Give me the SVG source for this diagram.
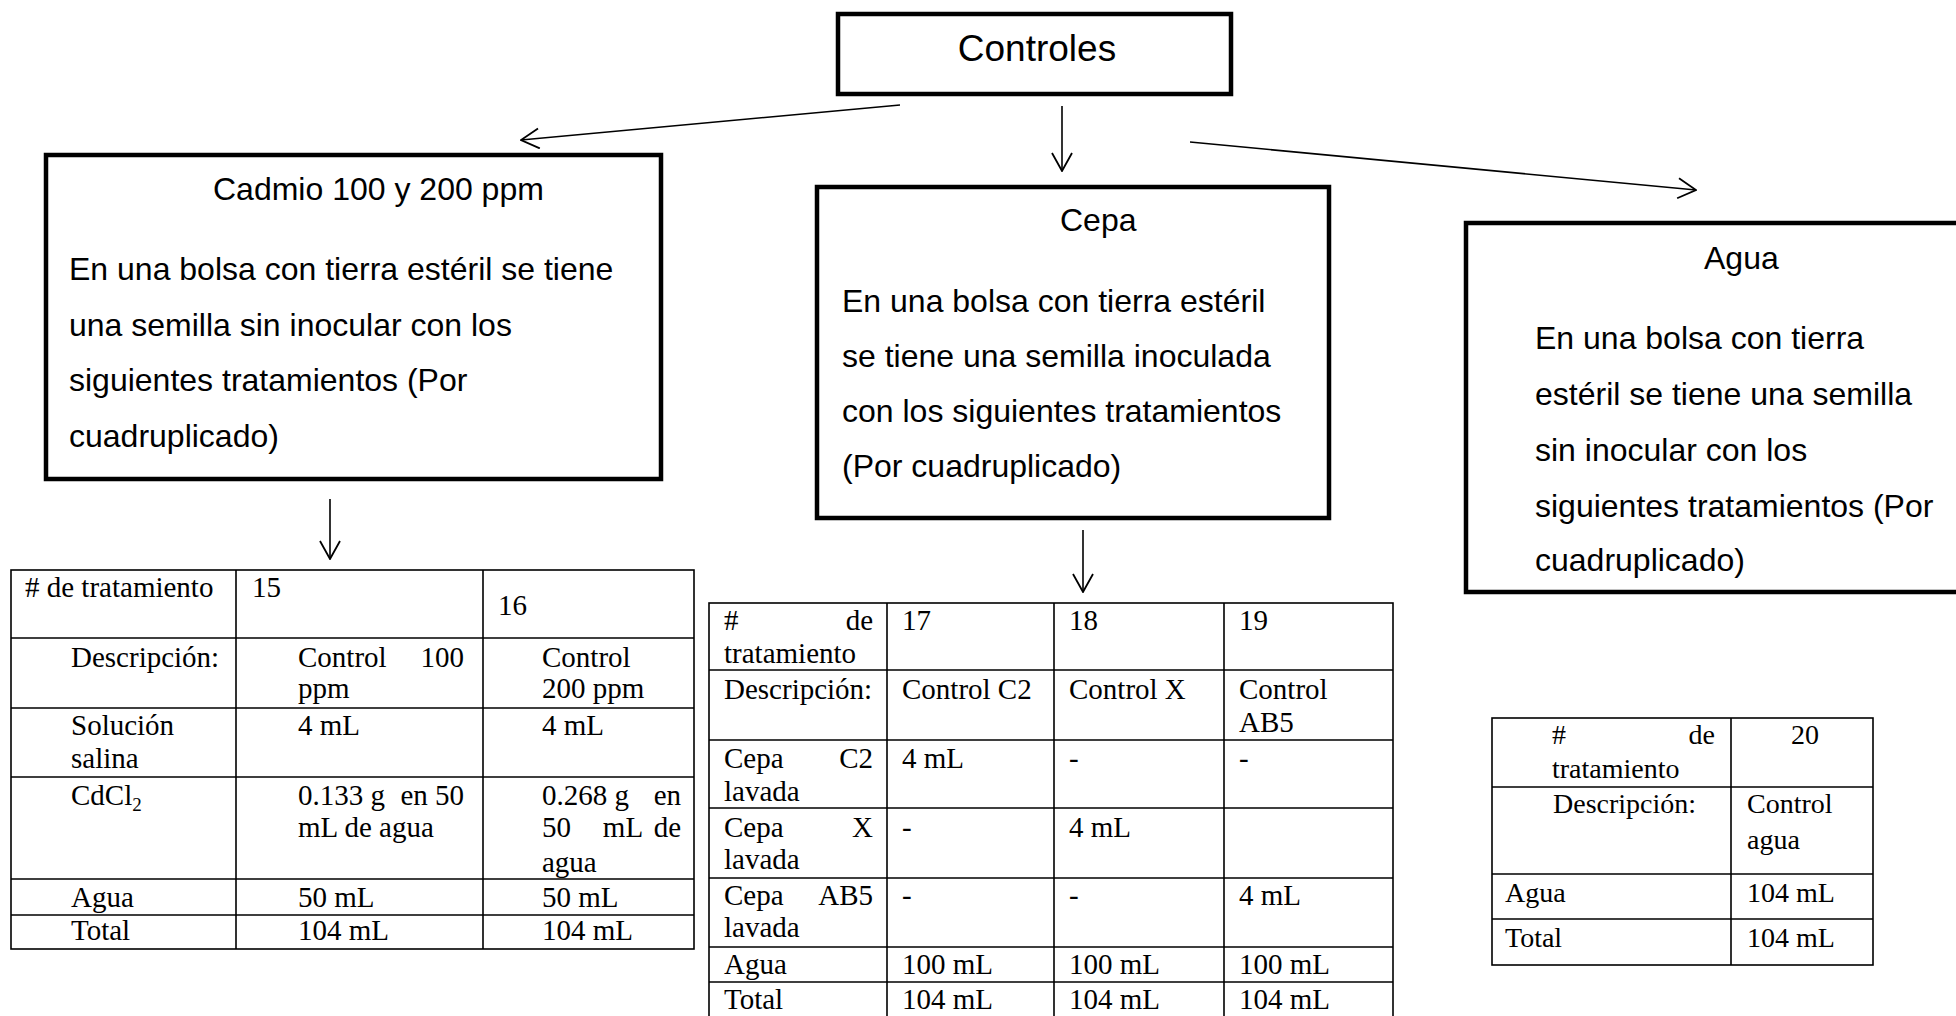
<svg xmlns="http://www.w3.org/2000/svg" width="1956" height="1016" viewBox="0 0 1956 1016">
<style>
.box{fill:#fff;stroke:#000;stroke-width:4.5}
.ar{font-family:"Liberation Sans",Arial,sans-serif;font-size:32px;fill:#000}
.tt{font-family:"Liberation Serif","Times New Roman",serif;font-size:29px;fill:#000}
.t3{font-family:"Liberation Serif","Times New Roman",serif;font-size:28px;fill:#000}
.grid{fill:none;stroke:#000;stroke-width:1.6}
.con{fill:none;stroke:#000;stroke-width:1.6;marker-end:url(#ah)}
.e{text-anchor:end}
.m{text-anchor:middle}
</style>
<defs>
<marker id="ah" markerUnits="userSpaceOnUse" viewBox="0 0 20 22" refX="19" refY="11" markerWidth="20" markerHeight="22" orient="auto">
<path d="M1,1 L19,11 L1,21" fill="none" stroke="#000" stroke-width="1.8"/>
</marker>
</defs>
<rect width="1956" height="1016" fill="#fff"/>

<g id="controles">
<rect class="box" x="838" y="14" width="393" height="80"/>
<text class="ar m" x="1037" y="61" style="font-size:37px">Controles</text>
</g>

<g id="cadmio">
<rect class="box" x="46" y="155" width="615" height="324"/>
<text class="ar" x="213" y="200">Cadmio 100 y 200 ppm</text>
<text class="ar" x="69" y="280">En una bolsa con tierra estéril se tiene</text>
<text class="ar" x="69" y="336">una semilla sin inocular con los</text>
<text class="ar" x="69" y="391">siguientes tratamientos (Por</text>
<text class="ar" x="69" y="447">cuadruplicado)</text>
</g>

<g id="cepa">
<rect class="box" x="817" y="187" width="512" height="331"/>
<text class="ar" x="1060" y="231">Cepa</text>
<text class="ar" x="842" y="312">En una bolsa con tierra estéril</text>
<text class="ar" x="842" y="367">se tiene una semilla inoculada</text>
<text class="ar" x="842" y="422">con los siguientes tratamientos</text>
<text class="ar" x="842" y="477">(Por cuadruplicado)</text>
</g>

<g id="agua">
<rect class="box" x="1466" y="223" width="520" height="369"/>
<text class="ar" x="1704" y="269">Agua</text>
<text class="ar" x="1535" y="349">En una bolsa con tierra</text>
<text class="ar" x="1535" y="405">estéril se tiene una semilla</text>
<text class="ar" x="1535" y="461">sin inocular con los</text>
<text class="ar" x="1535" y="517">siguientes tratamientos (Por</text>
<text class="ar" x="1535" y="571">cuadruplicado)</text>
</g>

<g id="tabla-cadmio">
<rect class="grid" x="11" y="570" width="683" height="379"/>
<path class="grid" d="M236,570V949M483,570V949M11,638H694M11,708H694M11,777H694M11,879H694M11,915H694"/>
<text class="tt" x="25" y="597"># de tratamiento</text>
<text class="tt" x="252" y="597">15</text>
<text class="tt" x="498" y="615">16</text>
<text class="tt" x="71" y="667">Descripción:</text>
<text class="tt" x="298" y="667">Control</text>
<text class="tt e" x="464" y="667">100</text>
<text class="tt" x="298" y="698">ppm</text>
<text class="tt" x="542" y="667">Control</text>
<text class="tt" x="542" y="698">200 ppm</text>
<text class="tt" x="71" y="735">Solución</text>
<text class="tt" x="71" y="768">salina</text>
<text class="tt" x="298" y="735">4 mL</text>
<text class="tt" x="542" y="735">4 mL</text>
<text class="tt" x="71" y="805">CdCl<tspan font-size="19" dy="6">2</tspan></text>
<text class="tt" x="298" y="805">0.133 g</text>
<text class="tt e" x="464" y="805">en 50</text>
<text class="tt" x="298" y="837">mL de agua</text>
<text class="tt" x="542" y="805">0.268 g</text>
<text class="tt e" x="681" y="805">en</text>
<text class="tt" x="542" y="837">50</text>
<text class="tt m" x="623" y="837">mL</text>
<text class="tt e" x="681" y="837">de</text>
<text class="tt" x="542" y="872">agua</text>
<text class="tt" x="71" y="907">Agua</text>
<text class="tt" x="298" y="907">50 mL</text>
<text class="tt" x="542" y="907">50 mL</text>
<text class="tt" x="71" y="940">Total</text>
<text class="tt" x="298" y="940">104 mL</text>
<text class="tt" x="542" y="940">104 mL</text>
</g>

<g id="tabla-cepa">
<rect class="grid" x="709" y="603" width="684" height="430"/>
<path class="grid" d="M887,603V1033M1054,603V1033M1224,603V1033M709,670H1393M709,740H1393M709,808H1393M709,878H1393M709,947H1393M709,982H1393"/>
<text class="tt" x="724" y="630">#</text>
<text class="tt e" x="873" y="630">de</text>
<text class="tt" x="724" y="663">tratamiento</text>
<text class="tt" x="902" y="630">17</text>
<text class="tt" x="1069" y="630">18</text>
<text class="tt" x="1239" y="630">19</text>
<text class="tt" x="724" y="699">Descripción:</text>
<text class="tt" x="902" y="699">Control C2</text>
<text class="tt" x="1069" y="699">Control X</text>
<text class="tt" x="1239" y="699">Control</text>
<text class="tt" x="1239" y="732">AB5</text>
<text class="tt" x="724" y="768">Cepa</text>
<text class="tt e" x="873" y="768">C2</text>
<text class="tt" x="724" y="801">lavada</text>
<text class="tt" x="902" y="768">4 mL</text>
<text class="tt" x="1069" y="768">-</text>
<text class="tt" x="1239" y="768">-</text>
<text class="tt" x="724" y="837">Cepa</text>
<text class="tt e" x="873" y="837">X</text>
<text class="tt" x="724" y="869">lavada</text>
<text class="tt" x="902" y="837">-</text>
<text class="tt" x="1069" y="837">4 mL</text>
<text class="tt" x="724" y="905">Cepa</text>
<text class="tt e" x="873" y="905">AB5</text>
<text class="tt" x="724" y="937">lavada</text>
<text class="tt" x="902" y="905">-</text>
<text class="tt" x="1069" y="905">-</text>
<text class="tt" x="1239" y="905">4 mL</text>
<text class="tt" x="724" y="974">Agua</text>
<text class="tt" x="902" y="974">100 mL</text>
<text class="tt" x="1069" y="974">100 mL</text>
<text class="tt" x="1239" y="974">100 mL</text>
<text class="tt" x="724" y="1009">Total</text>
<text class="tt" x="902" y="1009">104 mL</text>
<text class="tt" x="1069" y="1009">104 mL</text>
<text class="tt" x="1239" y="1009">104 mL</text>
</g>

<g id="tabla-agua">
<rect class="grid" x="1492" y="718" width="381" height="247"/>
<path class="grid" d="M1731,718V965M1492,787H1873M1492,874H1873M1492,919H1873"/>
<text class="t3" x="1552" y="744">#</text>
<text class="t3 e" x="1715" y="744">de</text>
<text class="t3" x="1552" y="778">tratamiento</text>
<text class="t3 m" x="1805" y="744">20</text>
<text class="t3" x="1553" y="813">Descripción:</text>
<text class="t3" x="1747" y="813">Control</text>
<text class="t3" x="1747" y="849">agua</text>
<text class="t3" x="1505" y="902">Agua</text>
<text class="t3" x="1747" y="902">104 mL</text>
<text class="t3" x="1505" y="947">Total</text>
<text class="t3" x="1747" y="947">104 mL</text>
</g>

<g id="conectores">
<line class="con" x1="900" y1="105" x2="521" y2="140"/>
<line class="con" x1="1062" y1="106" x2="1062" y2="171"/>
<line class="con" x1="1190" y1="142" x2="1696" y2="190"/>
<line class="con" x1="330" y1="499" x2="330" y2="559"/>
<line class="con" x1="1083" y1="530" x2="1083" y2="592"/>
</g>
</svg>
